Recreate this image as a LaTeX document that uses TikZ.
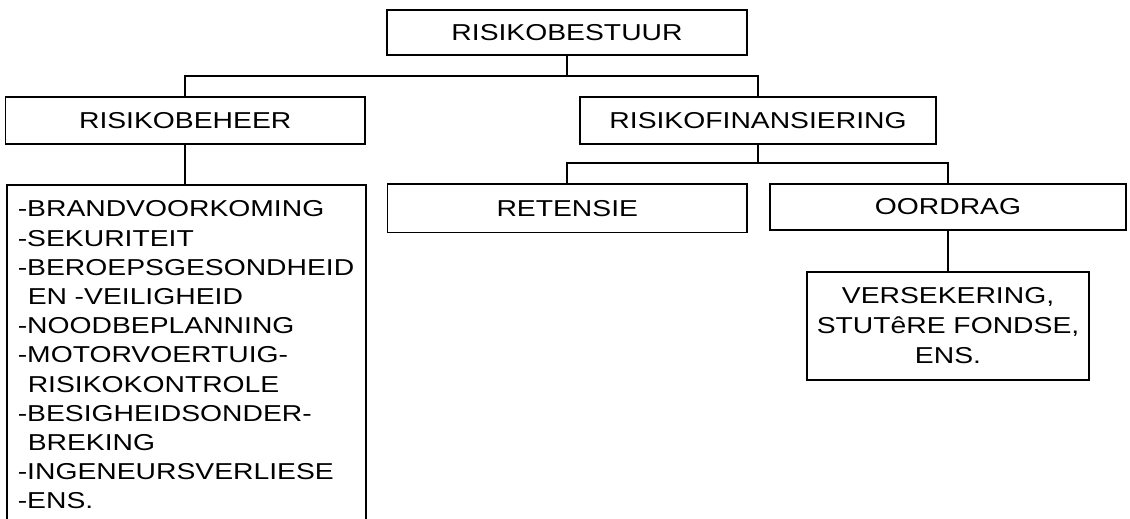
\documentclass[tikz,border=0pt]{standalone}
\usepackage{fontspec}
\setmainfont{Liberation Sans}[FakeStretch=1.23]
\begin{document}
\begin{tikzpicture}[x=1pt,y=-1pt,
  box/.style={draw, line width=1.6pt, inner sep=0pt,
    font=\fontsize{23}{29.2}\selectfont},
  link/.style={line width=1.6pt}]
\clip (0,0) rectangle (1130,519);
\fill[white] (0,0) rectangle (1130,519);

% boxes
\node[box, minimum width=360, minimum height=45] (top) at (567,32.5) {RISIKOBESTUUR};
\node[box, minimum width=359.6, minimum height=47] (beheer) at (185.2,120.5) {RISIKOBEHEER};
\node[box, minimum width=356, minimum height=47] (fin) at (758,120.5) {RISIKOFINANSIERING};
\node[box, minimum width=359.5, minimum height=48.5] (ret) at (567.25,208.3) {RETENSIE};
\node[box, minimum width=356, minimum height=46] (oor) at (948,207) {OORDRAG};
\node[box, minimum width=282, minimum height=108, align=center,
      font=\fontsize{23}{30}\selectfont] (vers) at (948,326)
  {VERSEKERING,\\STUTêRE FONDSE,\\ENS.};
\node[box, anchor=north west, align=left, text width=337,
      inner xsep=11, inner ysep=16] (list) at (6,184)
  {-BRANDVOORKOMING\\
   -SEKURITEIT\\
   -BEROEPSGESONDHEID\\
   \hspace*{10pt}EN -VEILIGHEID\\
   -NOODBEPLANNING\\
   -MOTORVOERTUIG-\\
   \hspace*{10pt}RISIKOKONTROLE\\
   -BESIGHEIDSONDER-\\
   \hspace*{10pt}BREKING\\
   -INGENEURSVERLIESE\\
   -ENS.};

% connectors
\coordinate (j1) at (567,76);
\coordinate (j2) at (758,163);
\draw[link] (top.south) -- (j1);
\draw[link] (beheer.north) |- (j1) -| (fin.north);
\draw[link] (beheer.south) -- (beheer.south |- list.north);
\draw[link] (fin.south) -- (j2);
\draw[link] (ret.north) |- (j2) -| (oor.north);
\draw[link] (oor.south) -- (vers.north);
\end{tikzpicture}
\end{document}
